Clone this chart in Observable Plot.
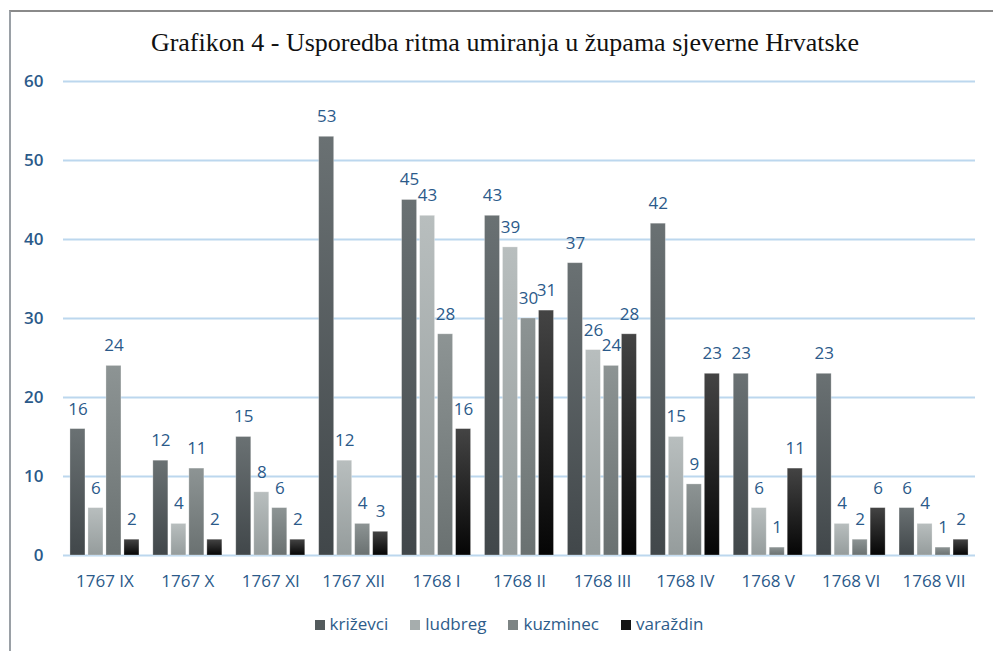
<!DOCTYPE html>
<html>
<head>
<meta charset="utf-8">
<script src="https://cdn.jsdelivr.net/npm/d3@7"></script>
<script src="https://cdn.jsdelivr.net/npm/@observablehq/plot@0.6"></script>
<style>
  html, body { margin: 0; padding: 0; background: #fff; }
  #wrap { position: relative; width: 993px; height: 651px; overflow: hidden; }
  #frame { position: absolute; left: 9px; top: 10px; width: 990px; height: 650px;
           border-top: 2px solid #8a8a8a; border-left: 2px solid #9aa0a6; }
  #title { position: absolute; left: 0; width: 1010px; top: 28px; text-align: center;
           font-family: "Liberation Serif", "Times New Roman", serif; font-size: 26px; color: #111; }
  #chart { position: absolute; left: 0; top: 65px; }
  #legend { position: absolute; left: 0; width: 1018px; top: 612px; text-align: center;
            font-family: "Open Sans", "Noto Sans", sans-serif; font-size: 17px; color: #2e5c8a; }
  #legend span.item { display: inline-block; margin: 0 11px; }
  #legend span.sw { display: inline-block; width: 10px; height: 10px; margin-right: 5px; vertical-align: 0px; }
</style>
</head>
<body>
<div id="wrap">
  <div id="frame"></div>
  <div id="title">Grafikon 4 - Usporedba ritma umiranja u župama sjeverne Hrvatske</div>
  <div id="chart"></div>
  <div id="legend"></div>
</div>
<script>
const months = ["1767 IX", "1767 X", "1767 XI", "1767 XII", "1768 I", "1768 II", "1768 III", "1768 IV", "1768 V", "1768 VI", "1768 VII"];
const seriesNames = ["križevci", "ludbreg", "kuzminec", "varaždin"];
const krizevci = [16, 12, 15, 53, 45, 43, 37, 42, 23, 23, 6];
const ludbreg  = [6, 4, 8, 12, 43, 39, 26, 15, 6, 4, 4];
const kuzminec = [24, 11, 6, 4, 28, 30, 24, 9, 1, 2, 1];
const varazdin = [2, 2, 2, 3, 16, 31, 28, 23, 11, 6, 2];
const yTicks = [0, 10, 20, 30, 40, 50, 60];

const seriesValues = [krizevci, ludbreg, kuzminec, varazdin];
const gradients = [
  ["#6a7173", "#41474a"],
  ["#b8bebe", "#959c9c"],
  ["#8d9494", "#6a7171"],
  ["#444444", "#050505"]
];
const swatch = ["#545b5d", "#a6adad", "#7d8484", "#151515"];
const labelColor = "#2b5a8a";

const step = 18, barW = 15;
const W = 993, H = 535, mL = 63, mR = 18;
const bandW = (W - mL - mR) / months.length;
const inset = (bandW - barW) / 2;

const marks = [
  Plot.gridY(yTicks, {stroke: "#bcd7ee", strokeWidth: 2, strokeOpacity: 1}),
  Plot.axisY(yTicks, {tickSize: 0, tickPadding: 20, fontSize: 17, fill: labelColor, fontWeight: 600}),
  Plot.axisX({tickSize: 0, tickPadding: 19, fontSize: 17, fill: labelColor, fontWeight: 500})
];
seriesValues.forEach((vals, i) => {
  const data = months.map((m, j) => ({month: m, value: vals[j]}));
  const off = (i - 1.5) * step;
  marks.push(Plot.barY(data, {x: "month", y: "value", dx: off, insetLeft: inset, insetRight: inset,
    fill: `url(#grad${i})`, stroke: "#ffffff", strokeOpacity: 0.35, strokeWidth: 0.8}));
  marks.push(Plot.text(data, {x: "month", y: "value", dx: off, dy: -20, text: d => String(d.value),
    fill: labelColor, fontSize: 17, fontWeight: 500}));
});

const chart = Plot.plot({
  width: W, height: H,
  marginLeft: mL, marginRight: mR, marginTop: 16, marginBottom: 45,
  style: {fontFamily: "'Open Sans', 'Noto Sans', sans-serif", background: "transparent"},
  x: {domain: months, padding: 0, round: false, label: null},
  y: {domain: [0, 60], label: null},
  marks
});

const defs = d3.select(chart).insert("defs", ":first-child");
gradients.forEach((g, i) => {
  const lg = defs.append("linearGradient").attr("id", `grad${i}`)
    .attr("x1", 0).attr("y1", 0).attr("x2", 0).attr("y2", 1);
  lg.append("stop").attr("offset", "0%").attr("stop-color", g[0]);
  lg.append("stop").attr("offset", "100%").attr("stop-color", g[1]);
});
document.getElementById("chart").appendChild(chart);

const legend = document.getElementById("legend");
seriesNames.forEach((name, i) => {
  const item = document.createElement("span");
  item.className = "item";
  const sw = document.createElement("span");
  sw.className = "sw";
  sw.style.background = swatch[i];
  item.appendChild(sw);
  item.appendChild(document.createTextNode(name));
  legend.appendChild(item);
});
</script>
</body>
</html>
